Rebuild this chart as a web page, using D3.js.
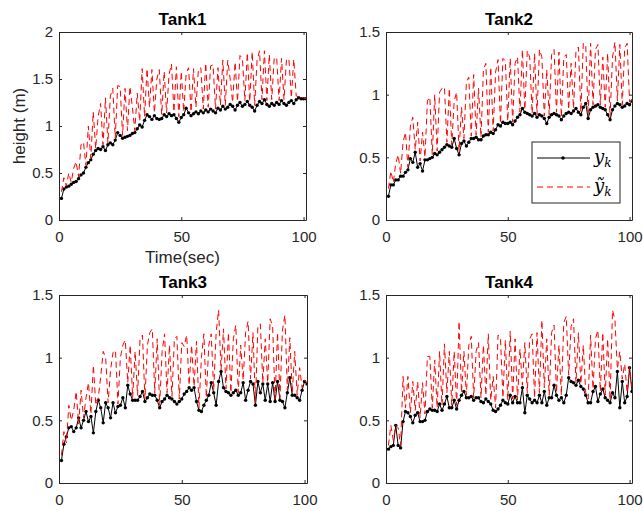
<!DOCTYPE html>
<html>
<head>
<meta charset="utf-8">
<style>
  body { margin: 0; background: #fff; }
  svg { font-family: "Liberation Sans", Arial, Helvetica, sans-serif; }
  .title { font-size: 17px; font-weight: bold; fill: #000; }
  .lab { font-size: 17px; fill: #262626; }
</style>
</head>
<body>
<script src="https://cdn.jsdelivr.net/npm/d3@7"></script>
<script>
// sample times
var time = d3.range(1, 102);

var titles = ["Tank1", "Tank2", "Tank3", "Tank4"];
var yMaxes = [2, 1.5, 1.5, 1.5];
var xTicks = [0, 50, 100];

// measured height y_k, per tank
var y1 = [0.23,0.33,0.35,0.36,0.38,0.40,0.41,0.44,0.48,0.50,
  0.56,0.61,0.64,0.70,0.74,0.76,0.75,0.78,0.74,0.80,
  0.82,0.80,0.85,0.93,0.90,0.87,0.88,0.89,0.90,0.92,
  0.93,0.97,1.01,0.99,1.06,1.12,1.10,1.07,1.11,1.08,
  1.07,1.08,1.12,1.10,1.13,1.11,1.12,1.08,1.04,1.09,
  1.12,1.19,1.14,1.11,1.13,1.15,1.13,1.16,1.14,1.17,
  1.15,1.18,1.16,1.14,1.19,1.17,1.21,1.18,1.20,1.23,
  1.21,1.17,1.22,1.25,1.21,1.23,1.26,1.22,1.20,1.16,
  1.22,1.26,1.24,1.28,1.23,1.21,1.24,1.22,1.25,1.23,
  1.27,1.24,1.22,1.25,1.27,1.24,1.28,1.30,1.29,1.29,1.29];
var y2 = [0.19,0.28,0.28,0.32,0.32,0.35,0.35,0.38,0.40,0.49,
  0.46,0.54,0.42,0.45,0.39,0.48,0.48,0.49,0.50,0.53,
  0.52,0.54,0.56,0.58,0.60,0.59,0.58,0.65,0.57,0.52,
  0.61,0.63,0.59,0.62,0.65,0.65,0.66,0.64,0.64,0.67,
  0.68,0.68,0.70,0.69,0.72,0.76,0.75,0.78,0.77,0.77,
  0.78,0.76,0.79,0.82,0.84,0.89,0.86,0.85,0.84,0.83,
  0.85,0.82,0.84,0.83,0.81,0.77,0.82,0.84,0.85,0.84,
  0.83,0.80,0.83,0.85,0.86,0.85,0.87,0.89,0.86,0.84,
  0.90,0.93,0.81,0.88,0.90,0.91,0.92,0.90,0.89,0.88,
  0.84,0.80,0.88,0.91,0.93,0.92,0.90,0.91,0.93,0.92,0.95];
var y3 = [0.18,0.31,0.37,0.44,0.45,0.41,0.44,0.52,0.44,0.50,
  0.57,0.49,0.53,0.40,0.57,0.66,0.60,0.48,0.64,0.60,
  0.52,0.64,0.56,0.61,0.62,0.68,0.60,0.78,0.71,0.66,
  0.66,0.66,0.69,0.73,0.65,0.68,0.71,0.70,0.70,0.66,
  0.60,0.65,0.67,0.70,0.68,0.67,0.65,0.63,0.65,0.67,
  0.71,0.73,0.76,0.74,0.76,0.65,0.58,0.57,0.62,0.66,
  0.70,0.80,0.72,0.62,0.81,0.89,0.76,0.73,0.72,0.70,
  0.72,0.74,0.70,0.72,0.80,0.66,0.74,0.81,0.79,0.62,
  0.81,0.72,0.79,0.66,0.79,0.65,0.80,0.65,0.81,0.66,
  0.65,0.60,0.72,0.84,0.70,0.70,0.68,0.66,0.74,0.81,0.79];
var y4 = [0.27,0.29,0.30,0.46,0.30,0.28,0.49,0.57,0.56,0.53,
  0.48,0.54,0.56,0.49,0.49,0.50,0.57,0.59,0.58,0.58,
  0.57,0.63,0.58,0.63,0.69,0.60,0.60,0.66,0.59,0.66,
  0.70,0.73,0.68,0.68,0.69,0.66,0.68,0.68,0.65,0.64,
  0.67,0.65,0.63,0.58,0.57,0.59,0.62,0.66,0.64,0.63,
  0.70,0.64,0.69,0.64,0.64,0.76,0.56,0.70,0.67,0.64,
  0.66,0.64,0.70,0.64,0.73,0.62,0.68,0.68,0.78,0.70,
  0.66,0.68,0.64,0.70,0.84,0.81,0.80,0.78,0.82,0.77,
  0.75,0.70,0.64,0.64,0.73,0.77,0.65,0.71,0.75,0.68,
  0.66,0.64,0.72,0.68,0.89,0.60,0.81,0.64,0.69,0.92,0.73];

// estimated height ỹ_k, per tank
var e1 = [0.30,0.45,0.36,0.50,0.40,0.55,0.62,0.46,0.80,0.83,
  0.58,1.00,0.66,1.15,0.76,1.10,1.24,0.80,1.30,0.82,
  1.32,1.40,0.87,1.43,1.42,0.90,1.40,0.95,1.42,1.20,
  0.95,1.35,1.05,1.61,1.10,1.61,1.20,1.60,1.14,1.50,
  1.60,1.12,1.58,1.14,1.55,1.66,1.15,1.63,1.10,1.58,
  1.15,1.56,1.62,1.15,1.61,1.20,1.60,1.62,1.18,1.67,
  1.20,1.64,1.65,1.18,1.62,1.22,1.70,1.22,1.70,1.50,
  1.25,1.68,1.26,1.75,1.72,1.27,1.78,1.26,1.79,1.22,
  1.70,1.80,1.28,1.80,1.27,1.76,1.28,1.72,1.73,1.27,
  1.72,1.28,1.70,1.72,1.30,1.71,1.32,1.31,1.30,1.30,1.29];
var e2 = [0.25,0.39,0.30,0.45,0.52,0.37,0.62,0.70,0.42,0.75,
  0.82,0.56,0.78,0.47,0.70,0.50,0.95,0.98,0.52,1.00,
  0.55,1.02,1.05,1.06,0.62,1.05,0.60,0.95,1.02,0.55,
  0.90,0.65,1.10,1.14,0.67,1.16,0.68,1.05,0.66,1.20,
  1.25,0.70,1.22,0.71,1.18,1.28,0.77,1.29,1.27,0.79,
  1.29,0.78,1.25,1.30,0.86,1.36,0.88,1.35,1.30,0.85,
  1.33,0.84,1.36,1.30,0.83,1.20,0.84,1.32,1.36,0.86,
  1.34,0.82,1.30,1.32,0.88,1.25,0.89,1.35,1.38,0.86,
  1.41,1.40,0.83,1.41,0.92,1.36,1.40,0.92,1.30,0.90,
  1.33,0.82,1.30,1.42,0.95,1.40,0.92,1.37,1.41,0.94,0.96];
var e3 = [0.22,0.41,0.32,0.62,0.50,0.58,0.73,0.47,0.74,0.52,
  0.68,0.80,0.55,0.94,0.62,0.68,0.85,1.05,1.00,0.64,
  0.90,1.04,1.06,0.63,1.00,1.10,1.14,0.80,1.10,0.68,
  1.05,0.70,1.15,1.18,0.67,1.10,1.20,1.23,0.72,1.15,
  0.62,1.05,1.19,0.72,1.10,0.69,1.15,1.17,0.67,1.12,
  1.09,1.18,0.78,1.10,0.77,1.13,0.60,1.00,1.19,0.68,
  1.10,1.19,0.74,1.20,1.38,0.90,1.23,0.75,1.20,0.72,
  1.15,1.26,0.72,1.10,0.82,1.20,1.29,0.83,1.20,0.64,
  1.25,1.27,0.80,1.15,0.80,1.31,1.25,0.67,1.20,0.68,
  1.22,1.34,0.74,1.16,0.72,1.05,0.70,0.92,0.76,0.82,0.80];
var e4 = [0.30,0.46,0.34,0.46,0.44,0.30,0.85,0.60,0.85,0.56,
  0.81,0.58,0.81,0.52,0.80,0.55,1.01,1.01,0.60,0.98,
  0.60,1.05,0.62,1.11,0.72,1.05,0.62,1.05,0.62,1.29,
  0.72,1.05,0.70,1.10,1.17,0.68,1.05,1.12,0.68,1.10,
  0.70,1.19,0.66,0.85,0.60,1.18,1.16,0.68,1.14,0.66,
  1.21,0.67,1.15,0.66,1.07,0.78,1.12,0.72,1.15,1.19,
  0.68,1.20,0.72,1.30,0.76,1.15,0.70,1.20,1.26,0.72,
  1.10,0.70,1.28,1.33,0.86,1.25,1.31,0.80,1.20,0.79,
  1.10,0.72,0.67,1.18,0.75,1.15,1.22,0.73,1.20,0.70,
  1.15,0.66,1.38,1.30,0.91,1.05,0.83,0.95,0.72,0.93,0.75];

var measured = [y1, y2, y3, y4];
var estimated = [e1, e2, e3, e4];

// axes boxes in page pixels
var boxes = [
  {left: 59, top: 32, width: 247, height: 188},
  {left: 386, top: 32, width: 246, height: 188},
  {left: 59, top: 295, width: 248, height: 188},
  {left: 386, top: 295, width: 246, height: 188}
];

var svg = d3.select("body").append("svg")
  .attr("width", 643)
  .attr("height", 511);

var axisColor = "#262626";

boxes.forEach(function(b, i) {
  var x = d3.scaleLinear().domain([0, 101]).range([0, b.width]);
  var y = d3.scaleLinear().domain([0, yMaxes[i]]).range([b.height, 0]);
  var yt = d3.range(0, yMaxes[i] + 0.001, 0.5);

  var g = svg.append("g").attr("transform", "translate(" + b.left + "," + b.top + ")");

  var clipId = "clip" + i;
  g.append("clipPath").attr("id", clipId)
    .append("rect").attr("width", b.width).attr("height", b.height);

  var plot = g.append("g").attr("clip-path", "url(#" + clipId + ")");

  var pts = time.map(function(t, k) { return [t, measured[i][k], estimated[i][k]]; });

  var lineEst = d3.line().x(function(d) { return x(d[0]); }).y(function(d) { return y(d[2]); });
  var lineMeas = d3.line().x(function(d) { return x(d[0]); }).y(function(d) { return y(d[1]); });

  plot.append("path")
    .attr("d", lineMeas(pts))
    .attr("fill", "none")
    .attr("stroke", "#000")
    .attr("stroke-width", 1);

  plot.selectAll("circle").data(pts).enter().append("circle")
    .attr("cx", function(d) { return x(d[0]); })
    .attr("cy", function(d) { return y(d[1]); })
    .attr("r", 1.7)
    .attr("fill", "#000");

  plot.append("path")
    .attr("d", lineEst(pts))
    .attr("fill", "none")
    .attr("stroke", "#ff0000")
    .attr("stroke-width", 1)
    .attr("stroke-dasharray", "6,4");

  // axes, ticks inside like matlab
  var bottom = g.append("g").attr("transform", "translate(0," + b.height + ")")
    .call(d3.axisBottom(x).tickValues(xTicks).tickSizeInner(-3).tickSizeOuter(0).tickPadding(11));
  var top = g.append("g")
    .call(d3.axisTop(x).tickValues(xTicks).tickSizeInner(-3).tickSizeOuter(0).tickFormat(""));
  var left = g.append("g")
    .call(d3.axisLeft(y).tickValues(yt).tickSizeInner(-3).tickSizeOuter(0).tickPadding(6)
      .tickFormat(function(d) { return d3.format("")(+d.toFixed(1)); }));
  var right = g.append("g").attr("transform", "translate(" + b.width + ",0)")
    .call(d3.axisRight(y).tickValues(yt).tickSizeInner(-3).tickSizeOuter(0).tickFormat(""));

  [bottom, top, left, right].forEach(function(a) {
    a.attr("font-family", null).attr("font-size", null);
    a.selectAll("path.domain").attr("stroke", axisColor).attr("stroke-width", 1);
    a.selectAll(".tick line").attr("stroke", axisColor);
    a.selectAll(".tick text").attr("fill", axisColor).style("font-size", "15px");
  });

  g.append("text").attr("class", "title")
    .attr("x", b.width / 2).attr("y", -7)
    .attr("text-anchor", "middle")
    .text(titles[i]);

  if (i == 0) {
    g.append("text").attr("class", "lab")
      .attr("x", b.width / 2).attr("y", b.height + 43)
      .attr("text-anchor", "middle")
      .text("Time(sec)");
    g.append("text").attr("class", "lab")
      .attr("transform", "translate(-34," + (b.height / 2) + ")rotate(-90)")
      .attr("text-anchor", "middle")
      .text("height (m)");
  }

  if (i == 1) {
    var lg = g.append("g").attr("transform", "translate(146,110)");
    lg.append("rect").attr("width", 88).attr("height", 61)
      .attr("fill", "#fff").attr("stroke", axisColor).attr("stroke-width", 1);
    lg.append("line").attr("x1", 5).attr("x2", 58).attr("y1", 16).attr("y2", 16)
      .attr("stroke", "#000").attr("stroke-width", 1);
    lg.append("circle").attr("cx", 31).attr("cy", 16).attr("r", 1.7).attr("fill", "#000");
    lg.append("line").attr("x1", 5).attr("x2", 58).attr("y1", 45).attr("y2", 45)
      .attr("stroke", "#ff0000").attr("stroke-width", 1).attr("stroke-dasharray", "6,4");
    var t1 = lg.append("text").attr("x", 62).attr("y", 21)
      .style("font-family", "'DejaVu Serif', 'Liberation Serif', serif").style("font-style", "italic");
    t1.append("tspan").style("font-size", "18px").text("y");
    t1.append("tspan").attr("dy", 4).style("font-size", "12px").text("k");
    var t2 = lg.append("text").attr("x", 62).attr("y", 50)
      .style("font-family", "'DejaVu Serif', 'Liberation Serif', serif").style("font-style", "italic");
    t2.append("tspan").style("font-size", "18px").text("\u1EF9");
    t2.append("tspan").attr("dy", 4).style("font-size", "12px").text("k");
  }
});
</script>
</body>
</html>
